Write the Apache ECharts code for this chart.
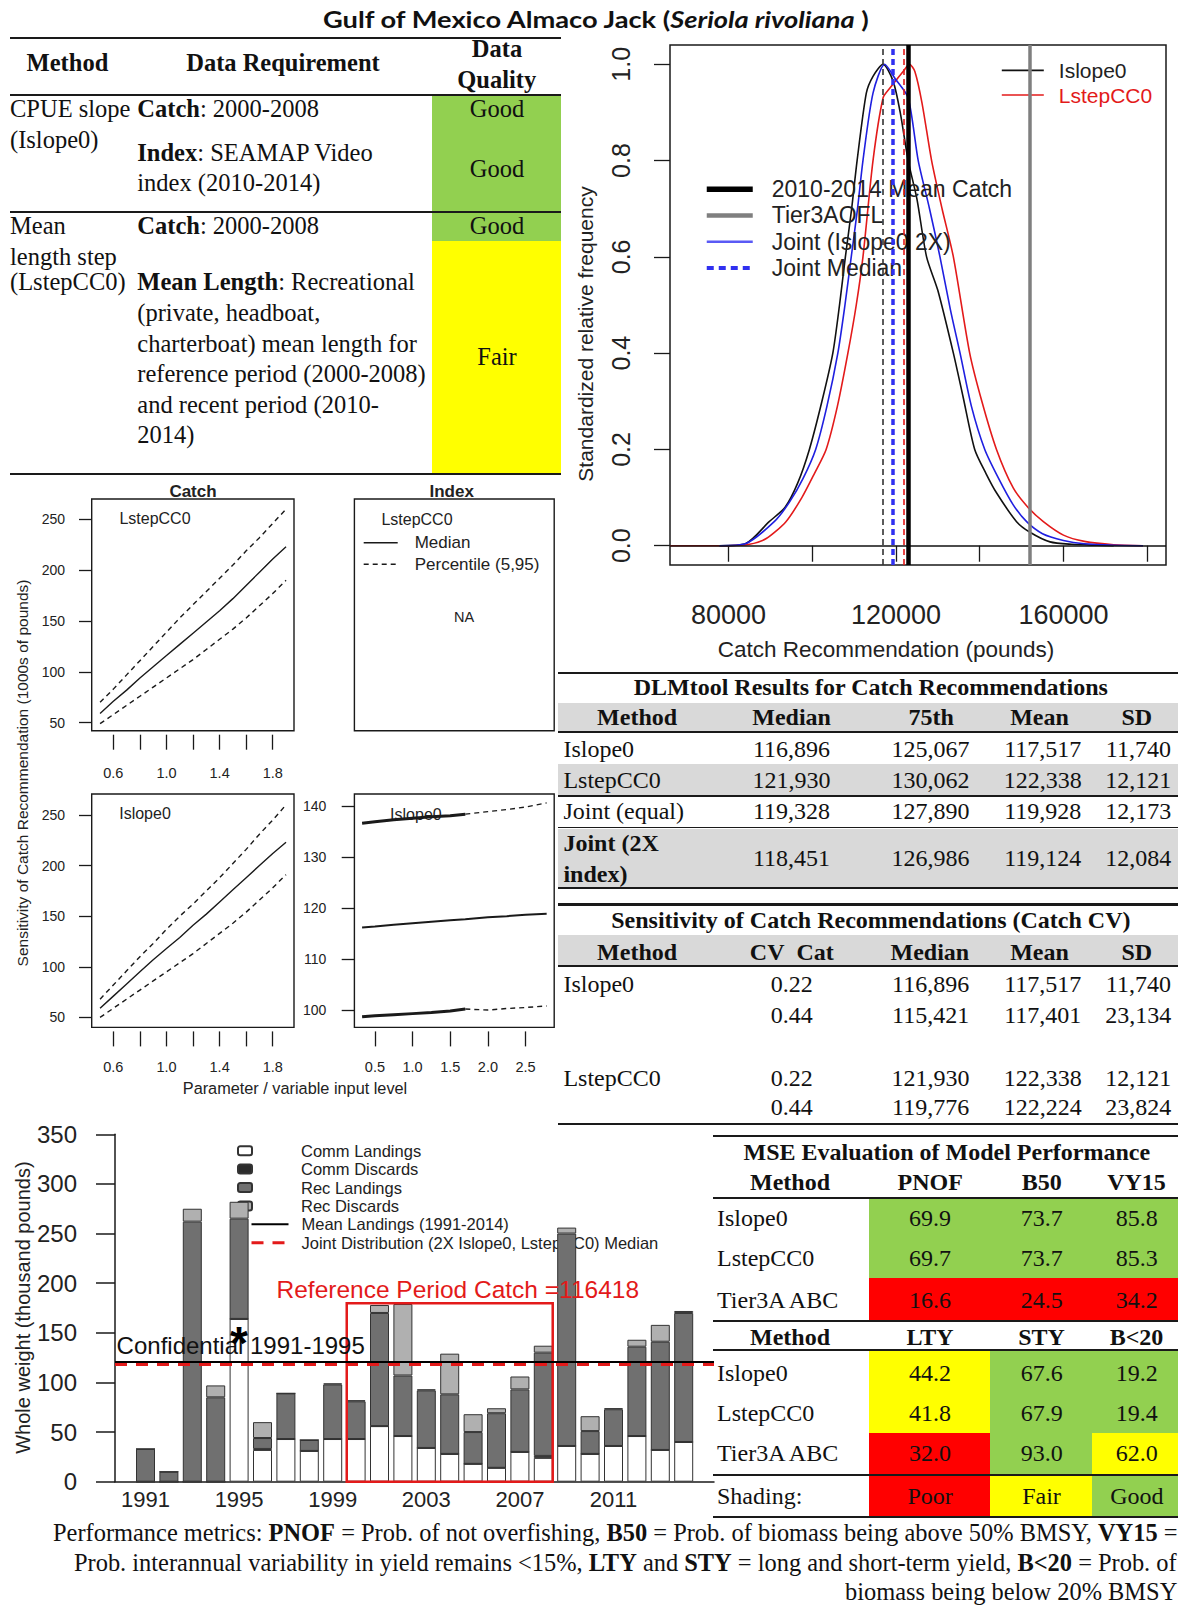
<!DOCTYPE html>
<html>
<head>
<meta charset="utf-8">
<script src="https://cdn.jsdelivr.net/npm/echarts@6/dist/echarts.min.js"></script>
<style>
html, body { margin: 0; padding: 0; background: #fff; }
#page { position: relative; width: 1178px; height: 1606px; overflow: hidden; }
#chart { position: absolute; left: 0; top: 0; width: 1178px; height: 1606px; }
#tables { position: absolute; left: 0; top: 0; width: 1178px; height: 1606px; pointer-events: none;
  font-family: "Liberation Serif", "Times New Roman", serif; color: #111; }
.tx { position: absolute; white-space: nowrap; line-height: 1; }
.bx { position: absolute; }
</style>
</head>
<body>
<div id="page"><div id="chart"></div><div id="tables"></div></div>
<script>
// ---------- density plot (catch recommendation) ----------
const isX = [77800, 84000, 89700, 93500, 96500, 99300, 102300, 104900, 106500, 107900, 109400, 110700, 112900, 114500, 116900, 119300, 121000, 122900, 125000, 127300, 130000, 133700, 136000, 138800, 141500, 144000, 148800, 152000, 156800, 162000, 168000, 172000];
const isY = [0, 0.004, 0.05, 0.08, 0.13, 0.2, 0.3, 0.4, 0.5, 0.6, 0.7, 0.8, 0.94, 0.975, 1.0, 0.965, 0.9, 0.8, 0.72, 0.6, 0.53, 0.4, 0.31, 0.2, 0.15, 0.11, 0.05, 0.028, 0.008, 0.003, 0.001, 0];
const lsX = [66000, 80000, 85000, 89000, 93700, 97500, 100500, 103300, 106000, 108500, 110500, 112100, 114500, 116900, 118500, 121700, 123200, 124500, 126200, 128500, 131000, 133700, 137600, 140500, 144000, 148000, 151500, 155200, 160000, 165000, 172000, 179000];
const lsY = [0, 0, 0.003, 0.015, 0.05, 0.1, 0.15, 0.2, 0.29, 0.4, 0.5, 0.6, 0.8, 0.93, 0.95, 0.985, 1.0, 0.985, 0.92, 0.8, 0.7, 0.6, 0.4, 0.3, 0.2, 0.12, 0.08, 0.05, 0.022, 0.009, 0.002, 0];
const jtX = [77800, 84000, 90900, 94500, 97800, 100800, 103500, 106100, 107800, 109300, 110800, 112100, 114500, 117300, 119800, 122900, 125300, 128000, 130500, 133000, 135300, 138000, 141200, 144500, 148000, 151200, 155000, 160000, 165000, 172000, 179000];
const jtY = [0, 0.004, 0.05, 0.09, 0.14, 0.2, 0.29, 0.4, 0.5, 0.6, 0.7, 0.8, 0.94, 1.0, 0.97, 0.93, 0.8, 0.7, 0.6, 0.49, 0.4, 0.29, 0.2, 0.14, 0.085, 0.05, 0.025, 0.011, 0.004, 0.001, 0];
const isMedian = 116896;
const lsMedian = 121930;
const jointMedian = 119328;
const meanCatch1014 = 122874;
const tier3aOfl = 151856;
const densXTicks = [80000, 100000, 120000, 140000, 160000, 180000];
const densXLabels = [80000, 120000, 160000];
const densYTicks = [0, 0.2, 0.4, 0.6, 0.8, 1.0];

// ---------- sensitivity panels ----------
const cvX = [0.5, 0.6, 0.7, 0.8, 0.9, 1.0, 1.1, 1.2, 1.3, 1.4, 1.5, 1.6, 1.7, 1.8, 1.9];
const lsMed = [59, 71, 82, 94, 105, 116, 127, 138, 149, 160, 172, 185, 198, 211, 223];
const lsHi = [70, 83, 97, 111, 125, 139, 153, 166, 179, 192, 205, 219, 232, 246, 260];
const lsLo = [49, 58, 67, 76, 85, 94, 103, 112, 122, 132, 142, 153, 165, 177, 190];
const isMed = [59, 71, 83, 95, 107, 118, 129, 141, 152, 164, 176, 188, 200, 212, 223];
const isHi = [68, 82, 96, 110, 123, 137, 150, 162, 175, 188, 202, 216, 231, 245, 260];
const isLo = [50, 59, 68, 77, 86, 95, 104, 113, 123, 133, 143, 154, 166, 178, 191];
const idxX = [0.33, 0.5, 0.75, 1.0, 1.25, 1.5, 1.7, 2.0, 2.25, 2.5, 2.78];
const idxHi = [136.6, 136.9, 137.3, 137.6, 137.9, 138.1, 138.4, 138.9, 139.3, 139.8, 140.6];
const idxMed = [116.2, 116.4, 116.7, 117.0, 117.3, 117.6, 117.8, 118.2, 118.4, 118.7, 118.9];
const idxLo = [98.7, 98.9, 99.1, 99.3, 99.5, 99.8, 100.2, 100.0, 100.3, 100.5, 100.8];
const idxDenseEnd = 6;
const cvTicks = [0.6, 0.8, 1.0, 1.2, 1.4, 1.6, 1.8];
const cvLabels = [0.6, 1.0, 1.4, 1.8];
const catchYTicks = [50, 100, 150, 200, 250];
const idxXTicks = [0.5, 1.0, 1.5, 2.0, 2.5];
const idxYTicks = [100, 110, 120, 130, 140];

// ---------- landings bars ----------
const years = ['1991', '1992', '1993', '1994', '1995', '1996', '1997', '1998', '1999', '2000', '2001', '2002', '2003', '2004', '2005', '2006', '2007', '2008', '2009', '2010', '2011', '2012', '2013', '2014'];
const commLand = [0, 0, 0, 0, 164, 32, 43, 31, 43, 43, 56, 46, 34, 28, 18, 14, 30, 24, 36, 28, 36, 46, 32, 40];
const commDisc = [0, 0, 0, 0, 0, 1, 0, 0, 0, 0, 0, 0, 0, 0, 0, 0, 0, 2, 0, 0, 0, 0, 0, 0];
const recLand = [33, 10, 262, 85, 101, 11, 46, 11, 55, 38, 114, 61, 58, 60, 32, 55, 63, 104, 214, 23, 37, 90, 109, 130];
const recDisc = [0, 0, 13, 12, 17, 16, 0, 0, 1, 1, 8, 72, 1, 41, 18, 5, 13, 7, 6, 15, 1, 7, 17, 2];
const meanLandings = 120.9;
const jointMedianK = 118.451;
const refPeriod = [1999.6, 2008.4];
const refCatchTop = 179.7;

// ---------- tables ----------
const qMethod = ['CPUE slope', '(Islope0)', 'Mean', 'length step', '(LstepCC0)'];
const qReq = ['<b>Catch</b>: 2000-2008', '<b>Index</b>: SEAMAP Video', 'index (2010-2014)', '<b>Catch</b>: 2000-2008',
  '<b>Mean Length</b>: Recreational', '(private, headboat,', 'charterboat) mean length for',
  'reference period (2000-2008)', 'and recent period (2010-', '2014)'];
const qQuality = ['Good', 'Good', 'Good', 'Fair'];

const dlmMethod = ['Islope0', 'LstepCC0', 'Joint (equal)', 'Joint (2X index)'];
const dlmMedian = [116896, 121930, 119328, 118451];
const dlm75 = [125067, 130062, 127890, 126986];
const dlmMean = [117517, 122338, 119928, 119124];
const dlmSD = [11740, 12121, 12173, 12084];

const sensMethod = ['Islope0', '', 'LstepCC0', ''];
const sensCV = [0.22, 0.44, 0.22, 0.44];
const sensMedian = [116896, 115421, 121930, 119776];
const sensMean = [117517, 117401, 122338, 122224];
const sensSD = [11740, 23134, 12121, 23824];

const mseMethod = ['Islope0', 'LstepCC0', 'Tier3A ABC'];
const msePNOF = [69.9, 69.7, 16.6];
const mseB50 = [73.7, 73.7, 24.5];
const mseVY15 = [85.8, 85.3, 34.2];
const mseLTY = [44.2, 41.8, 32.0];
const mseSTY = [67.6, 67.9, 93.0];
const mseB20 = [19.2, 19.4, 62.0];
const mseRate1 = [['g', 'g', 'g'], ['g', 'g', 'g'], ['r', 'r', 'r']];
const mseRate2 = [['y', 'g', 'g'], ['y', 'g', 'g'], ['r', 'g', 'y']];
const shadeLabels = ['Poor', 'Fair', 'Good'];

const notes = [
  'Performance metrics: <b>PNOF</b> = Prob. of not overfishing, <b>B50</b> = Prob. of biomass being above 50% BMSY, <b>VY15</b> =',
  'Prob. interannual variability in yield remains &lt;15%, <b>LTY</b> and <b>STY</b> = long and short-term yield, <b>B&lt;20</b> = Prob. of',
  'biomass being below 20% BMSY'
];

// ================= ECharts =================
const zip = (xs, ys) => xs.map((x, i) => [x, ys[i]]);
const SANS = 'Liberation Sans, Arial, sans-serif';
const INK = '#1a1a1a';
const dash = [5, 4];
const hideSymbol = { opacity: 0, color: 'rgba(0,0,0,0)', borderWidth: 0 };

const chart = echarts.init(document.getElementById('chart'), null, { renderer: 'svg' });

function valueAxis(gi, min, max, extra) {
  return Object.assign({
    gridIndex: gi, type: 'value', min: min, max: max,
    axisLine: { show: false }, splitLine: { show: false }
  }, extra);
}
function ticks(values, len) {
  return { show: true, customValues: values, length: len, lineStyle: { color: INK, width: 1.3 } };
}
function labels(values, size, margin, fmt) {
  return { customValues: values, fontSize: size, margin: margin, color: '#222', fontFamily: SANS, formatter: fmt };
}
const f1 = v => Number(v).toFixed(1);
const f0 = v => String(Math.round(v));

const sensLine = (name, gi, xs, ys, style) => ({
  name: name, type: 'line', xAxisIndex: gi, yAxisIndex: gi, data: zip(xs, ys),
  symbol: 'none', silent: true, lineStyle: Object.assign({ color: INK, width: 1.4 }, style)
});

const barSeries = (name, arr, color) => ({
  name: name, type: 'bar', stack: 'catch', xAxisIndex: 6, yAxisIndex: 6,
  data: arr, barWidth: 19, silent: true, z: 3,
  itemStyle: { color: color, borderColor: '#333', borderWidth: 1 }
});

const gText = (x, y, text, size, extra) => Object.assign({
  type: 'text', x: x, y: y,
  style: { text: text, fontSize: size, fontFamily: SANS, fill: '#222', align: 'center', verticalAlign: 'middle' }
}, extra);
const gBold = (x, y, text, size) => ({
  type: 'text', x: x, y: y,
  style: { text: text, fontSize: size, fontWeight: 'bold', fontFamily: SANS, fill: '#222', align: 'center', verticalAlign: 'middle' }
});

const option = {
  animation: false,
  textStyle: { fontFamily: SANS, color: '#222' },
  grid: [
    { left: 670, top: 45, width: 496, height: 520, show: true, borderColor: INK, borderWidth: 1.5 },
    { left: 91.7, top: 499, width: 202.3, height: 231.7, show: true, borderColor: INK, borderWidth: 1.4 },
    { left: 354.4, top: 499, width: 199.8, height: 231.7, show: true, borderColor: INK, borderWidth: 1.4 },
    { left: 91.7, top: 794, width: 202.3, height: 233.4, show: true, borderColor: INK, borderWidth: 1.4 },
    { left: 354.4, top: 794, width: 199.8, height: 233.4, show: true, borderColor: INK, borderWidth: 1.4 },
    { left: 115, top: 1134.3, width: 599, height: 347.4 },
    { left: 133.8, top: 1134.3, width: 561.6, height: 347.4 }
  ],
  xAxis: [
    valueAxis(0, 66000, 184500, { axisTick: ticks(densXTicks, 16), axisLabel: labels(densXLabels, 27, 36, f0) }),
    valueAxis(1, 0.437, 1.96, { offset: 4, axisTick: ticks(cvTicks, 15), axisLabel: labels(cvLabels, 14.5, 31, f1) }),
    valueAxis(2, 0, 1, { show: false }),
    valueAxis(3, 0.437, 1.96, { offset: 4, axisTick: ticks(cvTicks, 15), axisLabel: labels(cvLabels, 14.5, 28, f1) }),
    valueAxis(4, 0.228, 2.88, { offset: 4, axisTick: ticks(idxXTicks, 15), axisLabel: labels(idxXTicks, 14.5, 28, f1) }),
    valueAxis(5, 1989.7, 2015.29, {
      axisLine: { show: true, onZero: true, lineStyle: { color: INK, width: 1.5 } },
      axisTick: { show: false }, axisLabel: { show: false }
    }),
    {
      gridIndex: 6, type: 'category', data: years,
      axisLine: { show: false }, axisTick: { show: false }, splitLine: { show: false },
      axisLabel: { interval: 3, fontSize: 22, margin: 7, color: '#222' }
    }
  ],
  yAxis: [
    valueAxis(0, -0.04, 1.04, { axisTick: ticks(densYTicks, 16), axisLabel: Object.assign(labels(densYTicks, 25, 37, f1), { rotate: 90 }) }),
    valueAxis(1, 42.1, 270, { axisTick: ticks(catchYTicks, 12.7), axisLabel: labels(catchYTicks, 14, 26.7, f0) }),
    valueAxis(2, 0, 1, { show: false }),
    valueAxis(3, 40.1, 270.7, { axisTick: ticks(catchYTicks, 12.7), axisLabel: labels(catchYTicks, 14, 26.7, f0) }),
    valueAxis(4, 96.6, 142.35, { axisTick: ticks(idxYTicks, 12.7), axisLabel: labels(idxYTicks, 14, 28, f0) }),
    valueAxis(5, 0, 350, {
      interval: 50,
      axisLine: { show: true, lineStyle: { color: INK, width: 1.5 } },
      axisTick: { show: true, length: 19, lineStyle: { color: INK, width: 1.5 } },
      axisLabel: { fontSize: 24, margin: 38, color: '#222' }
    }),
    valueAxis(6, 0, 350, { show: false })
  ],
  legend: [
    {
      data: ['Islope0', { name: 'LstepCC0', textStyle: { color: '#e31a1a' } }],
      orient: 'vertical', left: 996, top: 53, itemWidth: 42, itemHeight: 14, itemGap: 0,
      itemStyle: hideSymbol, lineStyle: { width: 1.6 },
      selectedMode: false, textStyle: { fontSize: 21, lineHeight: 24.7, padding: [0, 0, 0, 10], color: '#222' }
    },
    {
      data: [
        { name: '2010-2014 Mean Catch', lineStyle: { width: 5.5 } },
        { name: 'Tier3AOFL', lineStyle: { width: 4.5 } },
        { name: 'Joint (Islope0 2X)', lineStyle: { width: 2.5, color: '#5a5af5' } },
        { name: 'Joint Median', lineStyle: { width: 4 } }
      ],
      orient: 'vertical', left: 699, top: 171, itemWidth: 46, itemHeight: 14, itemGap: 0,
      itemStyle: hideSymbol,
      selectedMode: false, textStyle: { fontSize: 23, lineHeight: 26.3, padding: [0, 0, 0, 14], color: '#222' }
    },
    {
      data: ['Median', 'Percentile (5,95)'],
      orient: 'vertical', left: 358, top: 527, itemWidth: 34, itemHeight: 10, itemGap: 0,
      itemStyle: hideSymbol, lineStyle: { width: 1.4 },
      selectedMode: false, textStyle: { fontSize: 17, lineHeight: 21.5, padding: [0, 0, 0, 12], color: '#222' }
    },
    {
      data: ['Comm Landings', 'Comm Discards', 'Rec Landings', 'Rec Discards'],
      orient: 'vertical', left: 232, top: 1136.5, itemWidth: 14, itemHeight: 9, itemGap: 0, z: 1,
      selectedMode: false, textStyle: { fontSize: 16.5, lineHeight: 18.4, padding: [0, 0, 0, 44], color: '#222' }
    },
    {
      data: [
        { name: 'Mean Landings (1991-2014)', lineStyle: { width: 2 } },
        { name: 'Joint Distribution (2X Islope0, LstepCC0) Median', lineStyle: { width: 3 } }
      ],
      orient: 'vertical', left: 245, top: 1210.1, itemWidth: 37, itemHeight: 10, itemGap: 0, z: 1,
      itemStyle: hideSymbol,
      selectedMode: false, textStyle: { fontSize: 16.5, lineHeight: 18.4, padding: [0, 0, 0, 8], color: '#222' }
    }
  ],
  graphic: [
    gText(585, 334, 'Standardized relative frequency', 21, { rotation: Math.PI / 2 }),
    gText(886, 649, 'Catch Recommendation (pounds)', 22.5),
    gBold(193, 491.7, 'Catch', 17),
    gBold(451.7, 491.7, 'Index', 17),
    gText(155, 518.3, 'LstepCC0', 16),
    gText(145, 813.3, 'Islope0', 16),
    gText(417, 519, 'LstepCC0', 16),
    gText(415.9, 814.3, 'Islope0', 16),
    gText(464, 616.6, 'NA', 14.5),
    gText(22.5, 773, 'Sensitivity of Catch Recommendation (1000s of pounds)', 15.5, { rotation: Math.PI / 2 }),
    gText(295, 1088, 'Parameter / variable input level', 16.3),
    gText(23.3, 1307.6, 'Whole weight (thousand pounds)', 20, { rotation: Math.PI / 2 })
  ],
  series: [
    // density curves + reference lines
    {
      name: 'Islope0', type: 'line', xAxisIndex: 0, yAxisIndex: 0, data: zip(isX, isY),
      symbol: 'none', smooth: 0.25, silent: true, z: 3, lineStyle: { color: '#111', width: 1.6 },
      markLine: {
        symbol: ['none', 'none'], silent: true, label: { show: false }, animation: false,
        data: [
          { xAxis: isMedian, lineStyle: { color: '#333', type: [6, 4], width: 1.6 } },
          { yAxis: 0, lineStyle: { color: '#111', type: 'solid', width: 1.6 } },
          { xAxis: meanCatch1014, lineStyle: { color: '#000', type: 'solid', width: 4.5 } },
          { xAxis: tier3aOfl, lineStyle: { color: '#7f7f7f', type: 'solid', width: 3.5 } }
        ]
      }
    },
    {
      name: 'LstepCC0', type: 'line', xAxisIndex: 0, yAxisIndex: 0, data: zip(lsX, lsY),
      symbol: 'none', smooth: 0.25, silent: true, z: 3, lineStyle: { color: '#e31a1a', width: 1.6 },
      markLine: {
        symbol: ['none', 'none'], silent: true, label: { show: false }, animation: false,
        data: [{ xAxis: lsMedian, lineStyle: { color: '#e31a1a', type: [6, 4], width: 1.6 } }]
      }
    },
    {
      name: 'Joint (Islope0 2X)', type: 'line', xAxisIndex: 0, yAxisIndex: 0, data: zip(jtX, jtY),
      symbol: 'none', smooth: 0.25, silent: true, z: 3, lineStyle: { color: '#1f1fe0', width: 1.6 },
      markLine: {
        symbol: ['none', 'none'], silent: true, label: { show: false }, animation: false,
        data: [{ xAxis: jointMedian, lineStyle: { color: '#3030f0', type: [6, 4], width: 3.5 } }]
      }
    },
    { name: '2010-2014 Mean Catch', type: 'line', xAxisIndex: 0, yAxisIndex: 0, data: [], symbol: 'none', lineStyle: { color: '#000', width: 5.5 } },
    { name: 'Tier3AOFL', type: 'line', xAxisIndex: 0, yAxisIndex: 0, data: [], symbol: 'none', lineStyle: { color: '#7f7f7f', width: 4.5 } },
    { name: 'Joint Median', type: 'line', xAxisIndex: 0, yAxisIndex: 0, data: [], symbol: 'none', lineStyle: { color: '#3030f0', width: 4, type: [7, 5] } },

    // sensitivity: catch CV (LstepCC0 top, Islope0 bottom)
    sensLine('Median', 1, cvX, lsMed, {}),
    sensLine('Percentile (5,95)', 1, cvX, lsHi, { type: dash }),
    sensLine('Percentile (5,95)', 1, cvX, lsLo, { type: dash }),
    sensLine('Median', 3, cvX, isMed, {}),
    sensLine('Percentile (5,95)', 3, cvX, isHi, { type: dash }),
    sensLine('Percentile (5,95)', 3, cvX, isLo, { type: dash }),
    // sensitivity: index (Islope0)
    sensLine('Median', 4, idxX, idxMed, { width: 2 }),
    sensLine('Percentile (5,95)', 4, idxX.slice(0, idxDenseEnd + 1), idxHi.slice(0, idxDenseEnd + 1), { width: 3 }),
    sensLine('Percentile (5,95)', 4, idxX.slice(idxDenseEnd), idxHi.slice(idxDenseEnd), { type: dash }),
    sensLine('Percentile (5,95)', 4, idxX.slice(0, idxDenseEnd + 1), idxLo.slice(0, idxDenseEnd + 1), { width: 3 }),
    sensLine('Percentile (5,95)', 4, idxX.slice(idxDenseEnd), idxLo.slice(idxDenseEnd), { type: dash }),

    // landings bars
    barSeries('Comm Landings', commLand, '#ffffff'),
    barSeries('Comm Discards', commDisc, '#2b2b2b'),
    barSeries('Rec Landings', recLand, '#707070'),
    barSeries('Rec Discards', recDisc, '#b0b0b0'),
    {
      name: 'Mean Landings (1991-2014)', type: 'line', xAxisIndex: 5, yAxisIndex: 5, data: [],
      symbol: 'none', lineStyle: { color: '#000', width: 2 }
    },
    {
      name: 'Joint Distribution (2X Islope0, LstepCC0) Median', type: 'line', xAxisIndex: 5, yAxisIndex: 5, data: [],
      symbol: 'none', lineStyle: { color: '#e31a1a', width: 3, type: [12, 9] }
    },
    {
      name: 'annotations', type: 'scatter', xAxisIndex: 5, yAxisIndex: 5, data: [], z: 6, silent: true,
      markLine: {
        symbol: ['none', 'none'], silent: true, label: { show: false }, animation: false, z: 6,
        data: [
          { yAxis: meanLandings, lineStyle: { color: '#000', type: 'solid', width: 2 } },
          { yAxis: jointMedianK, lineStyle: { color: '#e31a1a', type: [12, 9], width: 3 } }
        ]
      },
      markArea: {
        silent: true, z: 6,
        itemStyle: { color: 'rgba(0,0,0,0)', borderColor: '#e31a1a', borderWidth: 2.5 },
        data: [[{ xAxis: refPeriod[0], yAxis: 0 }, { xAxis: refPeriod[1], yAxis: refCatchTop }]]
      },
      markPoint: {
        silent: true, symbol: 'circle', symbolSize: 0, z: 7,
        data: [
          { coord: [1995.07, 137.7], label: { show: true, position: 'inside', formatter: 'Confidential 1991-1995', fontSize: 24, color: '#111' } },
          { coord: [1996.6, 193.8], label: { show: true, position: 'right', distance: 0, formatter: 'Reference Period Catch =116418', fontSize: 24.5, color: '#e31a1a' } },
          { coord: [1995.0, 149.5], label: { show: true, position: 'inside', formatter: '*', fontSize: 46, fontWeight: 'bold', color: '#000', offset: [0, 10] } }
        ]
      }
    }
  ]
};
chart.setOption(option);

// ================= tables (HTML) =================
const layer = document.getElementById('tables');
const GREEN = '#92d050', YELLOW = '#ffff00', RED = '#ff0000', GRAY = '#d9d9d9';
const RATE = { g: GREEN, y: YELLOW, r: RED };
const fmt = v => v.toLocaleString('en-US');

function rect(x1, y1, x2, y2, color) {
  const d = document.createElement('div');
  d.className = 'bx';
  d.style.cssText = 'left:' + x1 + 'px;top:' + y1 + 'px;width:' + (x2 - x1) + 'px;height:' + (y2 - y1) + 'px;background:' + color;
  layer.appendChild(d);
}
function hline(x1, x2, y, th) { rect(x1, y - th / 2, x2, y + th / 2, '#1a1a1a'); }
function put(html, x, y, o) {
  o = o || {};
  const el = document.createElement('div');
  el.className = 'tx';
  el.innerHTML = html;
  el.style.fontSize = (o.fs || 24) + 'px';
  if (o.bold) el.style.fontWeight = 'bold';
  if (o.font) el.style.fontFamily = o.font;
  if (o.color) el.style.color = o.color;
  layer.appendChild(el);
  const w = el.offsetWidth, h = el.offsetHeight;
  const sx = o.w ? o.w / w : (o.sx || 1);
  const ww = w * sx, a = o.align || 'l';
  el.style.left = (a === 'l' ? x : a === 'c' ? x - ww / 2 : x - ww) + 'px';
  el.style.top = (y - h / 2) + 'px';
  el.style.transformOrigin = '0 50%';
  el.style.transform = 'scaleX(' + sx + ')';
  return sx;
}

// title
put('Gulf of Mexico Almaco Jack (<i>Seriola rivoliana</i> )', 595.6, 20, { font: 'Lato, "Open Sans", sans-serif', bold: true, fs: 22, w: 546, align: 'c' });

// data requirement table
rect(432, 95.3, 561, 240.7, GREEN);
rect(432, 240.7, 561, 474, YELLOW);
hline(10, 561, 38, 2.2); hline(10, 561, 95.3, 1.8); hline(10, 561, 212, 1.8); hline(10, 561, 474, 2.2);
put('<b>Method</b>', 67.6, 63.5, { fs: 24.5, align: 'c' });
put('<b>Data Requirement</b>', 282.7, 63.5, { fs: 24.5, align: 'c' });
put('<b>Data</b>', 496.8, 49, { fs: 24.5, align: 'c' });
put('<b>Quality</b>', 496.8, 80, { fs: 24.5, align: 'c' });
const qMethodY = [109.6, 140.3, 226.4, 257, 282.7];
const qReqY = [109.6, 153.6, 183.4, 226.4, 282.7, 313.4, 344.2, 374.9, 405.6, 435.3];
const qQualY = [109.6, 169, 226.4, 357.5];
qMethod.forEach((t, i) => put(t, 10, qMethodY[i], { fs: 24.5 }));
qReq.forEach((t, i) => put(t, 137.3, qReqY[i], { fs: 24.5 }));
qQuality.forEach((t, i) => put(t, 496.8, qQualY[i], { fs: 24.5, align: 'c' }));

// DLMtool results table
const colX = [791.5, 930.6, 1042.7, 1138.3];
hline(558, 1178, 673, 2.2);
put('<b>DLMtool Results for Catch Recommendations</b>', 870.7, 687.3, { fs: 24, align: 'c' });
rect(558, 702.7, 1178, 731.4, GRAY);
['Method', 'Median', '75th', 'Mean', 'SD'].forEach((t, i) =>
  put('<b>' + t + '</b>', [637.1, 791.8, 931, 1039.7, 1137][i], 717, { fs: 24, align: 'c' }));
hline(558, 1178, 732.4, 2.2);
rect(558, 764, 1178, 795, GRAY);
rect(558, 828.7, 1178, 887, GRAY);
hline(558, 1178, 796, 1.8);
hline(558, 1178, 827.6, 1.8);
hline(558, 1178, 888, 2.2);
const dlmY = [748.8, 779.5, 811.2, 858.4];
dlmMethod.forEach((m, i) => {
  if (i === 3) {
    put('<b>Joint (2X</b>', 563.4, 843, { fs: 24 });
    put('<b>index)</b>', 563.4, 873.7, { fs: 24 });
  } else {
    put(m, 563.4, dlmY[i], { fs: 24 });
  }
  [dlmMedian, dlm75, dlmMean, dlmSD].forEach((arr, j) => put(fmt(arr[i]), colX[j], dlmY[i], { fs: 24, align: 'c' }));
});

// sensitivity table
hline(558, 1178, 904.5, 2.2);
put('<b>Sensitivity of Catch Recommendations (Catch CV)</b>', 870.7, 919.8, { fs: 24, align: 'c' });
rect(558, 935.2, 1178, 965, GRAY);
['Method', 'CV&nbsp;&nbsp;Cat', 'Median', 'Mean', 'SD'].forEach((t, i) =>
  put('<b>' + t + '</b>', [637.1, 791.8, 930, 1039.7, 1137][i], 951.6, { fs: 24, align: 'c' }));
hline(558, 1178, 966, 2.2);
const sensY = [984.4, 1015, 1077.6, 1107.3];
sensMethod.forEach((m, i) => {
  if (m) put(m, 563.4, sensY[i], { fs: 24 });
  put(sensCV[i].toFixed(2), 791.8, sensY[i], { fs: 24, align: 'c' });
  put(fmt(sensMedian[i]), 930.6, sensY[i], { fs: 24, align: 'c' });
  put(fmt(sensMean[i]), 1042.7, sensY[i], { fs: 24, align: 'c' });
  put(fmt(sensSD[i]), 1138.3, sensY[i], { fs: 24, align: 'c' });
});
hline(558, 1178, 1123.7, 2.2);

// MSE table
const mseColX = [869.3, 990, 1091.7, 1178];
const mseColC = [930, 1041.7, 1136.7];
const mseRowsA = [[1198, 1238.3], [1238.3, 1278], [1278, 1320.5]];
const mseRowsB = [[1350, 1391.7], [1391.7, 1433.3], [1433.3, 1475]];
mseRowsA.forEach((r, i) => mseRate1[i].forEach((c, j) => rect(mseColX[j], r[0], mseColX[j + 1], r[1], RATE[c])));
mseRowsB.forEach((r, i) => mseRate2[i].forEach((c, j) => rect(mseColX[j], r[0], mseColX[j + 1], r[1], RATE[c])));
['r', 'y', 'g'].forEach((c, j) => rect(mseColX[j], 1475, mseColX[j + 1], 1516.7, RATE[c]));
hline(713, 1178, 1136, 2.2);
put('<b>MSE Evaluation of Model Performance</b>', 947, 1152, { fs: 24, align: 'c' });
['Method', 'PNOF', 'B50', 'VY15'].forEach((t, i) =>
  put('<b>' + t + '</b>', [790].concat(mseColC)[i], 1182, { fs: 24, align: 'c' }));
hline(713, 1178, 1198, 2.2);
const mseYA = [1218.3, 1258.3, 1300];
mseMethod.forEach((m, i) => {
  put(m, 717, mseYA[i], { fs: 24 });
  [msePNOF, mseB50, mseVY15].forEach((arr, j) => put(arr[i].toFixed(1), mseColC[j], mseYA[i], { fs: 24, align: 'c' }));
});
hline(713, 1178, 1321, 2.2);
['Method', 'LTY', 'STY', 'B&lt;20'].forEach((t, i) =>
  put('<b>' + t + '</b>', [790].concat(mseColC)[i], 1336.7, { fs: 24, align: 'c' }));
hline(713, 1178, 1350, 2.2);
const mseYB = [1373.3, 1413.3, 1453.3];
mseMethod.forEach((m, i) => {
  put(m, 717, mseYB[i], { fs: 24 });
  [mseLTY, mseSTY, mseB20].forEach((arr, j) => put(arr[i].toFixed(1), mseColC[j], mseYB[i], { fs: 24, align: 'c' }));
});
hline(713, 1178, 1475, 2.2);
put('Shading:', 717, 1496, { fs: 24 });
shadeLabels.forEach((t, j) => put(t, mseColC[j], 1496, { fs: 24, align: 'c' }));
hline(713, 1178, 1516.7, 2.2);

// footnote
const noteSx = put(notes[0], 1177, 1532, { fs: 25, w: 1124, align: 'r' });
put(notes[1], 1177, 1562, { fs: 25, sx: noteSx, align: 'r' });
put(notes[2], 1177, 1591, { fs: 25, sx: noteSx, align: 'r' });
</script>
</body>
</html>
